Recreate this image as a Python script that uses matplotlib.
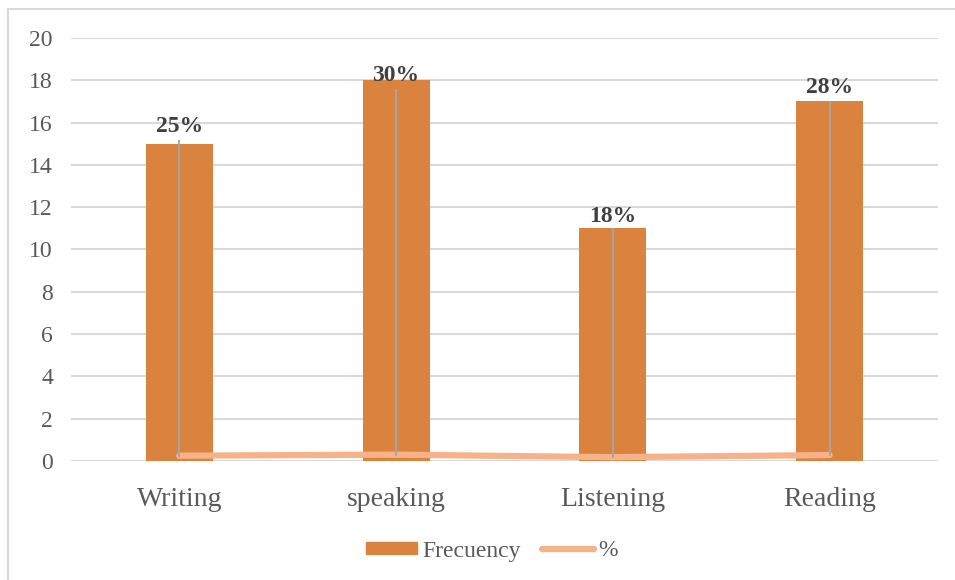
import matplotlib.pyplot as plt
from matplotlib.patches import Rectangle
from matplotlib.lines import Line2D

skills = ["Writing", "speaking", "Listening", "Reading"]
frecuency = [15, 18, 11, 17]
percent = [0.25, 0.30, 0.18, 0.28]
percent_labels = ["25%", "30%", "18%", "28%"]

BAR_COLOR = "#DA833E"
LINE_COLOR = "#F7B28A"
GRID_COLOR = "#D9D9D9"
TEXT_COLOR = "#595959"
LABEL_COLOR = "#404040"
LEADER_COLOR = "#A6A6A6"

# label baseline / leader end, relative to each bar top (data units)
label_offsets = [0.56, -0.03, 0.30, 0.40]
leader_offsets = [0.13, -0.46, -0.03, -0.03]

plt.rcParams["font.family"] = ["Liberation Serif", "DejaVu Serif"]

fig = plt.figure(figsize=(9.55, 5.8), dpi=100)
ax = fig.add_axes([0.0743, 0.2052, 0.9079, 0.7293])

x = list(range(len(skills)))
ax.bar(x, frecuency, width=0.31, color=BAR_COLOR, zorder=2, label="Frecuency")
ax.plot(x, percent, color=LINE_COLOR, lw=4.5, solid_capstyle="round", zorder=3, label="%")

for xi, h, p, txt, lo, le in zip(x, frecuency, percent, percent_labels, label_offsets, leader_offsets):
    ax.plot([xi, xi], [p, h + le], color=LEADER_COLOR, lw=1.4, zorder=4)
    ax.text(xi, h + lo, txt, ha="center", va="baseline", fontsize=17,
            fontweight="bold", color=LABEL_COLOR, zorder=5)

ax.set_xlim(-0.5, len(skills) - 0.5)
ax.set_ylim(0, 20)
ax.set_yticks(range(0, 21, 2))
ax.set_xticks(x)
ax.set_xticklabels(skills, fontsize=20, color=TEXT_COLOR)
ax.tick_params(axis="y", labelsize=17, labelcolor=TEXT_COLOR, length=0, pad=13)
ax.tick_params(axis="x", length=0, pad=19)
ax.yaxis.grid(True, color=GRID_COLOR, lw=1.5, zorder=0)
ax.set_axisbelow(True)
for s in ax.spines.values():
    s.set_visible(False)

handles = [Rectangle((0, 0), 1, 1, color=BAR_COLOR),
           Line2D([], [], color=LINE_COLOR, lw=4.5, solid_capstyle="round")]
fig.legend(handles, ["Frecuency", "%"], loc="center", bbox_to_anchor=(0.515, 0.050),
           ncol=2, frameon=False, fontsize=17, labelcolor=TEXT_COLOR,
           handlelength=2.2, handleheight=0.45, handletextpad=0.2, columnspacing=0.9)

# chart area frame (only left and top edges fall inside the canvas)
fig.add_artist(Rectangle((8 / 955, -0.5), 2.0, 1.5 - 9 / 580,
                         transform=fig.transFigure, fill=False,
                         edgecolor=GRID_COLOR, lw=1.5))

fig.savefig("out.png", dpi=100)
